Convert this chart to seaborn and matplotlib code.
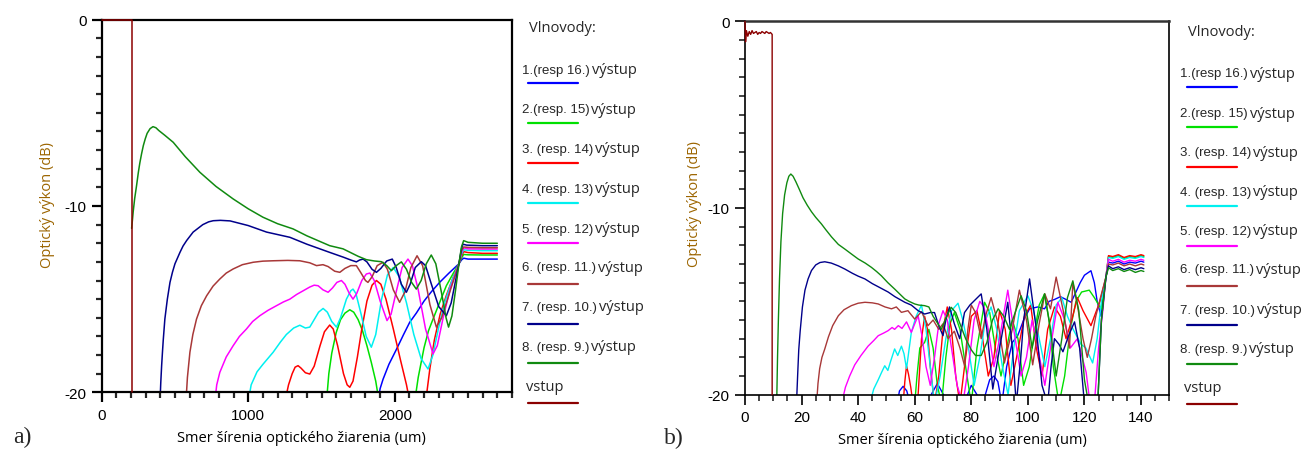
import matplotlib
matplotlib.use("Agg")
import matplotlib.pyplot as plt
import matplotlib.text as mtext
import pandas as pd
import seaborn as sns
from matplotlib.lines import Line2D
from matplotlib.ticker import MultipleLocator

# ---------------- data: panel a) ----------------
vstup_a_x = [0, 204, 204]
vstup_a_y = [0, 0, -20]

w8_a_x = [204, 208, 215, 225, 238, 250, 260, 272, 284, 297, 310, 330, 350, 370, 390, 430, 488, 570, 670, 780, 897, 1000, 1100, 1200,
          1306, 1400, 1556, 1647, 1750, 1806, 1860, 1909, 1945, 1977, 2010, 2045, 2080, 2115, 2147, 2180, 2215, 2249, 2280, 2320,
          2350, 2367, 2390, 2415, 2438, 2455, 2470, 2500, 2600, 2700]
w8_a_y = [-11.2, -10.9, -10.3, -9.6, -8.9, -8.2, -7.7, -7.2, -6.76, -6.4, -6.1, -5.85, -5.74, -5.8, -5.95, -6.2, -6.58, -7.35, -8.19, -8.95, -9.62, -10.15, -10.6, -10.95,
          -11.23, -11.6, -12.13, -12.3, -12.7, -12.88, -12.95, -12.99, -13.2, -13.47, -13.2, -13.0, -13.4, -14.1, -14.46, -14.0, -13.1, -12.63, -13.1, -14.7,
          -16.0, -16.5, -15.9, -14.5, -13.1, -12.2, -11.86, -11.95, -12.0, -12.0]

w7_a_x = [398, 403, 409, 415, 420, 431, 440, 448, 466, 483, 500, 534, 555, 580, 624, 690, 730, 761, 810, 876, 1000, 1125, 1284, 1400,
          1556, 1650, 1700, 1738, 1760, 1784, 1810, 1845, 1875, 1905, 1945, 1983, 2010, 2045, 2079, 2105, 2140, 2181, 2210, 2250,
          2300, 2352, 2385, 2415, 2438, 2455, 2465, 2490, 2600, 2700]
w7_a_y = [-20.5, -19.5, -18.57, -17.8, -17.2, -16.07, -15.5, -15.0, -14.1, -13.55, -13.1, -12.49, -12.15, -11.85, -11.4, -11.0, -10.85, -10.79, -10.77, -10.8, -11.05, -11.4, -11.68, -12.05,
          -12.49, -12.75, -12.9, -13.0, -12.9, -12.85, -13.0, -13.4, -13.56, -13.35, -12.95, -12.85, -13.3, -14.2, -14.63, -14.2, -13.3, -12.99, -13.2, -14.2,
          -15.4, -15.89, -15.2, -14.0, -13.1, -12.3, -12.05, -12.1, -12.13, -12.13]

w6_a_x = [575, 585, 602, 622, 647, 680, 716, 760, 806, 850, 897, 960, 1034, 1100, 1170, 1270, 1352, 1420, 1466, 1510, 1545, 1590, 1625,
          1660, 1700, 1738, 1770, 1800, 1817, 1845, 1880, 1920, 1950, 1990, 2033, 2070, 2110, 2152, 2190, 2240, 2284, 2320, 2380,
          2438, 2455, 2470, 2500, 2600, 2700]
w6_a_y = [-20.5, -19.2, -17.85, -16.9, -16.07, -15.35, -14.82, -14.3, -13.92, -13.6, -13.38, -13.15, -13.02, -12.96, -12.94, -12.92, -12.94, -13.05, -13.2, -13.15, -13.25, -13.5, -13.56,
          -13.35, -13.2, -13.2, -13.6, -14.0, -14.1, -13.8, -13.2, -13.02, -13.4, -14.5, -15.17, -14.6, -13.3, -12.67, -13.2, -15.3, -16.5, -16.0, -14.5,
          -13.1, -12.4, -12.2, -12.22, -12.24, -12.24]

w5_a_x = [772, 785, 806, 850, 897, 940, 988, 1030, 1079, 1135, 1193, 1240, 1284, 1330, 1375, 1420, 1450, 1477, 1510, 1545, 1575, 1605,
          1636, 1660, 1690, 1715, 1740, 1775, 1806, 1830, 1860, 1900, 1947, 1975, 2010, 2050, 2090, 2120, 2160, 2210, 2261, 2290,
          2330, 2380, 2438, 2455, 2470, 2500, 2600, 2700]
w5_a_y = [-20.5, -19.6, -18.93, -18.1, -17.5, -17.0, -16.6, -16.2, -15.89, -15.6, -15.35, -15.15, -15.0, -14.75, -14.55, -14.35, -14.25, -14.28, -14.5, -14.63, -14.4, -14.1,
          -14.0, -14.2, -14.7, -15.0, -14.7, -14.0, -13.65, -13.6, -14.0, -15.1, -16.15, -15.8, -14.6, -13.3, -12.85, -13.2, -14.5, -16.6, -17.94, -17.5,
          -16.0, -14.4, -13.1, -12.5, -12.25, -12.3, -12.31, -12.31]

w4_a_x = [1000, 1020, 1060, 1100, 1170, 1220, 1260, 1310, 1352, 1390, 1420, 1450, 1480, 1511, 1540, 1570, 1602, 1630, 1670, 1700, 1715,
          1735, 1770, 1805, 1840, 1870, 1910, 1950, 1990, 2030, 2080, 2130, 2180, 2227, 2260, 2300, 2340, 2390, 2438, 2455, 2470,
          2500, 2600, 2700]
w4_a_y = [-20.5, -19.6, -18.9, -18.5, -17.85, -17.3, -16.9, -16.55, -16.4, -16.55, -16.5, -16.1, -15.7, -15.5, -15.7, -16.2, -16.5, -16.0, -15.0, -14.55, -14.46,
          -14.7, -15.8, -17.0, -17.58, -16.9, -15.0, -13.7, -13.3, -13.8, -15.2, -16.9, -18.2, -18.75, -18.0, -16.5, -15.2, -14.0, -13.1, -12.6, -12.35,
          -12.38, -12.4, -12.4]

w3_a_x = [1250, 1275, 1300, 1320, 1340, 1360, 1390, 1420, 1450, 1490, 1520, 1556, 1580, 1610, 1650, 1675, 1693, 1715, 1745, 1775, 1810,
          1845, 1875, 1905, 1940, 1990, 2040, 2080, 2102, 2155, 2211, 2240, 2270, 2310, 2352, 2400, 2438, 2455, 2470, 2500, 2600, 2700]
w3_a_y = [-20.5, -19.6, -19.0, -18.65, -18.57, -18.7, -18.95, -19.02, -18.6, -17.5, -16.75, -16.39, -16.6, -17.5, -19.0, -19.6, -19.73, -19.4, -18.1, -16.6, -15.1,
          -14.25, -14.0, -14.2, -15.0, -16.6, -18.3, -19.6, -20.5, -22.0, -20.5, -18.7, -17.2, -15.8, -14.8, -13.8, -13.1, -12.7, -12.45, -12.5, -12.54, -12.54]

w2_a_x = [1534, 1550, 1570, 1600, 1630, 1660, 1693, 1720, 1750, 1780, 1810, 1840, 1870, 1893, 1990, 2136, 2160, 2200, 2230, 2261, 2300,
          2352, 2400, 2438, 2455, 2470, 2500, 2600, 2700]
w2_a_y = [-20.5, -19.0, -17.9, -16.8, -16.1, -15.75, -15.57, -15.7, -16.1, -16.7, -17.5, -18.4, -19.4, -20.5, -23.0, -20.5, -19.2, -17.6, -16.7, -16.07, -15.3,
          -14.28, -13.6, -13.1, -12.8, -12.6, -12.62, -12.63, -12.63]

w1_a_x = [1886, 1900, 1920, 1960, 2011, 2060, 2102, 2147, 2200, 2250, 2306, 2370, 2438, 2455, 2470, 2500, 2600, 2700]
w1_a_y = [-20.5, -19.8, -19.3, -18.5, -17.7, -16.9, -16.24, -15.75, -15.1, -14.6, -14.1, -13.6, -13.1, -12.9, -12.8, -12.85, -12.85, -12.85]

# ---------------- data: panel b) ----------------
vstup_b_x = [0, 0.2, 0.5, 1, 1.5, 2, 2.5, 3, 3.5, 4, 4.5, 5, 5.5, 6, 6.5, 7, 7.5, 8, 8.5, 9, 9.6, 9.6]
vstup_b_y = [0, -1.1, -0.5, -0.8, -0.55, -0.7, -0.5, -0.65, -0.6, -0.55, -0.7, -0.6, -0.65, -0.55, -0.6, -0.65, -0.55, -0.6, -0.65, -0.6, -0.7, -20]

w8_b_x = [11.2, 11.5, 11.8, 12.2, 12.7, 13.3, 14, 14.8, 15.5, 16.2, 17, 18, 19.2, 20.5, 22, 23.5, 25, 27, 28.5, 30.6, 33, 35.3, 37.5, 40,
          42.5, 44.7, 46.5, 48.2, 50.5, 52.9, 55, 56.5, 58, 60, 61.5, 63.5, 65, 66.5, 68.2, 69.4, 71, 72.9, 74.5, 76, 78, 80, 81.5, 83.5,
          85.5, 87.5, 89.5, 91.5, 93.5, 95.5, 97.6, 99.5, 101.5, 103.5, 105.9, 108, 110, 112, 114, 115.9, 118, 120, 121.5, 123, 124.7,
          126, 127.6, 128.5, 130, 132, 134, 136, 138, 140, 141]
w8_b_y = [-20.5, -18, -16, -13.8, -11.8, -10.3, -9.3, -8.65, -8.3, -8.18, -8.3, -8.6, -9.0, -9.45, -9.85, -10.2, -10.5, -10.85, -11.15, -11.55, -11.95, -12.2, -12.45, -12.73,
          -12.95, -13.18, -13.4, -13.63, -14.0, -14.34, -14.65, -14.87, -15.0, -15.14, -15.2, -15.23, -15.3, -15.8, -16.2, -16.5, -15.9, -15.32, -15.6, -16.2, -17.0, -17.6,
          -17.9, -17.9, -17.2, -16.0, -15.4, -15.8, -16.5, -15.6, -14.7, -15.5, -17.5, -16.0, -14.6, -16.5, -19.0, -17.0, -14.8, -13.9, -15.5, -19.2, -20.5, -21, -20.5,
          -16, -13.7, -13.2, -13.35, -13.25, -13.4, -13.3, -13.45, -13.35, -13.4]

w7_b_x = [18.2, 18.6, 19.0, 19.5, 20.3, 21.2, 22.3, 23.5, 25, 26.5, 28.2, 30.5, 33, 35.3, 38, 40, 42.4, 45, 47.5, 50.6, 53, 56.5, 58.8,
          61.2, 63.5, 65.5, 67, 68.5, 70, 71, 72.3, 74, 75.9, 77.6, 79.5, 81.5, 83.5, 85.5, 87.6, 90, 92.9, 94.5, 95.9, 97.5, 98.5, 100.6,
          103, 105, 107, 108.2, 109.4, 111, 112.4, 114.5, 116.5, 118.3, 120, 122, 124.7, 126, 127.6, 128.5, 130, 132, 134, 136, 138, 140, 141]
w7_b_y = [-20.5, -19, -17.6, -16.6, -15.3, -14.4, -13.8, -13.35, -13.05, -12.92, -12.88, -12.95, -13.1, -13.27, -13.5, -13.65, -13.8, -14.05, -14.25, -14.5, -14.75, -15.05, -15.2,
          -15.5, -15.68, -15.6, -15.6, -16.3, -16.84, -16.0, -15.3, -16.2, -17.0, -15.6, -15.2, -14.9, -14.6, -16.5, -19.7, -17.5, -15.05, -17.5, -20.5, -18, -16, -13.8,
          -16.5, -19.5, -20.5, -18.5, -17.0, -17.3, -17.7, -16.8, -16.1, -17.5, -20.5, -21, -20.5, -16, -13.7, -13.1, -13.25, -13.15, -13.3, -13.2, -13.3, -13.2, -13.25]

w6_b_x = [25.3, 25.8, 26.4, 27.2, 28.2, 29.5, 31, 33, 35, 37.6, 40, 42.4, 45, 47.1, 49.5, 51.8, 53.5, 55.3, 57.6, 60, 62.4, 64.7, 66.5,
          68.5, 70, 71.8, 74, 76, 77.6, 78.8, 80, 81.5, 83.5, 85, 87, 89.5, 91.7, 94.5, 97, 99.5, 101.7, 104, 106, 108, 110, 112.5, 114.7,
          115.9, 117.5, 119.5, 121, 122.5, 124, 125.5, 127.6, 128.5, 130, 132, 134, 136, 138, 140, 141]
w6_b_y = [-20.5, -19.4, -18.6, -18.0, -17.55, -16.9, -16.3, -15.77, -15.45, -15.23, -15.1, -15.05, -15.08, -15.14, -15.3, -15.4, -15.3, -15.59, -15.5, -15.95, -15.55, -16.3, -16.0,
          -16.5, -16.2, -17.0, -16.6, -17.5, -18.45, -16.5, -15.2, -15.6, -17.0, -15.8, -14.8, -16.2, -18.3, -16.5, -14.4, -16.0, -18.4, -16.2, -14.6, -15.4, -13.7, -15.5, -17.5,
          -14.0, -15.2, -17.0, -18.0, -17.0, -15.8, -14.9, -13.7, -13.0, -13.05, -12.95, -13.1, -13.0, -13.1, -13.0, -13.05]

w5_b_x = [34.1, 35.5, 37, 38.8, 41, 43.5, 45.5, 47.1, 49, 50.6, 52, 52.9, 54.2, 55.5, 57.1, 58.8, 60, 61.2, 62.5, 64, 65.5, 67, 68.5, 70,
          71.5, 73, 75, 77, 79, 81, 83, 84.5, 86, 88, 90, 92.9, 95, 97.6, 99.5, 101.5, 103.5, 106, 108.5, 110.6, 113, 115, 117.5, 120.6,
          122, 123.5, 125, 126.5, 127.6, 128.5, 130, 132, 134, 136, 138, 140, 141]
w5_b_y = [-20.5, -19.6, -19.0, -18.4, -17.9, -17.4, -17.1, -16.84, -16.7, -16.57, -16.4, -16.5, -16.3, -16.45, -16.1, -16.66, -16.2, -15.77,
          -16.8, -18.5, -19.5, -18.0, -16.2, -15.5, -16.0, -17.5, -19.5, -20.5, -18.5, -16.0, -15.0, -15.3, -16.5, -18.5, -17.0, -14.4, -16.5,
          -19.0, -18.0, -16.0, -17.5, -19.5, -17.0, -15.05, -16.0, -17.5, -17.0, -18.8, -20.5, -20.5, -17.5, -15.5, -13.7, -12.75, -12.85,
          -12.75, -12.9, -12.8, -12.85, -12.75, -12.8]

w4_b_x = [44.1, 45.5, 47.1, 48.3, 49.4, 50.5, 51.5, 52.9, 54, 55.3, 56.2, 57.1, 58.8, 60.5, 62.4, 64, 65.5, 67, 69, 71, 73, 75.3, 77, 79,
          81, 83, 85, 87, 89, 91, 93, 95, 97, 100, 102, 104, 106, 108, 110, 112, 114, 116, 118.8, 120.5, 122.9, 124.5, 126, 127.6, 128.5,
          130, 132, 134, 136, 138, 140, 141]
w4_b_y = [-20.5, -19.7, -19.2, -18.8, -18.45, -18.7, -18.2, -17.55, -17.9, -17.4, -17.8, -18.6, -16.66, -15.8, -15.2, -16.5, -18.5, -20.5,
          -19.0, -17.0, -15.5, -15.1, -16.0, -17.5, -19.5, -18.0, -16.0, -15.3, -16.5, -18.5, -20.0, -17.5, -15.5, -14.7, -15.5, -17.0, -18.5,
          -17.0, -15.2, -14.8, -15.8, -16.5, -17.3, -17.5, -18.3, -17.0, -15.0, -13.7, -12.65, -12.7, -12.6, -12.75, -12.65, -12.7, -12.6, -12.65]

w3_b_x = [55.9, 56.5, 57.1, 57.8, 58.6, 59.4, 60, 61, 62.4, 63.5, 64.5, 65.5, 67, 68.5, 70, 71.5, 73, 74.5, 76, 78, 80, 82, 84, 86, 88,
          90, 92, 94, 96, 98.8, 101, 103, 105, 107, 109.4, 111.5, 113.5, 115.5, 117.5, 119.5, 122.3, 124, 125.5, 127.6, 128.5, 130, 132,
          134, 136, 138, 140, 141]
w3_b_y = [-20.5, -19.3, -18.45, -18.9, -19.6, -20.5, -21, -20.5, -17.0, -15.8, -16.5, -18.5, -20.5, -19.0, -16.5, -15.3, -16.5, -19.0, -20.5,
          -18.0, -15.8, -15.5, -17.0, -19.0, -18.0, -15.5, -16.5, -19.5, -18.0, -15.8, -15.2, -17.5, -19.0, -16.5, -15.3, -15.8, -17.0, -16.0,
          -14.8, -15.5, -16.3, -15.6, -15.0, -13.7, -12.55, -12.6, -12.5, -12.65, -12.55, -12.6, -12.5, -12.55]

w2_b_x = [60, 60.8, 61.8, 63.5, 65, 66.5, 68, 69.5, 71, 72.5, 74, 76, 78, 80, 82, 84.7, 86.5, 88.5, 90.5, 92.5, 94.5, 96.5, 98.5, 100.5,
          102.5, 104, 105.9, 107.5, 109, 111, 113, 115, 117, 119, 121.7, 123.5, 125.9, 127.6, 128.5, 130, 132, 134, 136, 138, 140, 141]
w2_b_y = [-20.5, -19, -17.5, -17.2, -16.5, -17.5, -19.5, -20.5, -18.0, -16.2, -15.6, -16.5, -18.5, -20.5, -17.5, -15.05, -15.6, -17.5, -19.0,
          -17.5, -16.0, -17.0, -19.5, -18.5, -16.5, -15.2, -14.6, -16.0, -18.5, -20.5, -19.0, -16.5, -15.0, -14.5, -14.4, -14.8, -15.4, -13.7,
          -12.6, -12.65, -12.55, -12.7, -12.6, -12.65, -12.55, -12.6]

w1_b_x = [53.8, 54.6, 55.9, 57.2, 58.4, 60, 64, 68, 72, 76, 80, 84, 86.5, 88, 89.4, 90.8, 92.5, 94.5, 96.4, 98.5, 100.6, 103.5, 105.9,
          107.5, 109.4, 111.5, 113.5, 115.3, 117, 118.5, 120, 122.3, 123.5, 124.5, 125.9, 127.6, 128.5, 130, 132, 134, 136, 138, 140, 141]
w1_b_y = [-20.5, -19.8, -19.55, -19.8, -20.5, -22, -20.5, -19.4, -20.5, -21, -19.5, -20.5, -19.2, -19.0, -19.3, -20.5, -18.5, -17.2, -16.84,
          -16.0, -15.4, -15.3, -15.4, -15.0, -14.9, -14.75, -14.9, -15.05, -14.5, -14.0, -13.6, -13.36, -14.0, -15.0, -15.8, -13.7, -12.9,
          -12.95, -12.85, -13.0, -12.9, -12.95, -12.85, -12.9]

legend_title = "Vlnovody:"
legend_parts = ["1.(resp 16.)", "2.(resp. 15)", "3. (resp. 14)", "4. (resp. 13)", "5. (resp. 12)",
                "6. (resp. 11.)", "7. (resp. 10.)", "8. (resp. 9.)"]
legend_suffix = "výstup"
legend_last = "vstup"
colors = ["#0000ff", "#00e000", "#ff0000", "#00f0f0", "#ff00ff", "#a83838", "#00008b", "#108a10", "#8b0000"]

xlabel = "Smer šírenia optického žiarenia (um)"
ylabel = "Optický výkon (dB)"

series_a = [(w1_a_x, w1_a_y), (w2_a_x, w2_a_y), (w3_a_x, w3_a_y), (w4_a_x, w4_a_y), (w5_a_x, w5_a_y),
            (w6_a_x, w6_a_y), (w7_a_x, w7_a_y), (w8_a_x, w8_a_y), (vstup_a_x, vstup_a_y)]
series_b = [(w1_b_x, w1_b_y), (w2_b_x, w2_b_y), (w3_b_x, w3_b_y), (w4_b_x, w4_b_y), (w5_b_x, w5_b_y),
            (w6_b_x, w6_b_y), (w7_b_x, w7_b_y), (w8_b_x, w8_b_y), (vstup_b_x, vstup_b_y)]

# ---------------- figure ----------------
sns.set_style("ticks")
plt.rcParams['font.family'] = ['Liberation Sans', 'DejaVu Sans']
plt.rcParams['axes.unicode_minus'] = False

W, H = 1302, 452
fig = plt.figure(figsize=(W / 100, H / 100), dpi=100)


def fx(px):
    return px / W


def fy(py):
    return 1 - py / H


axA = fig.add_axes([fx(101.7), fy(393.3), 410.3 / W, 372.6 / H])
axB = fig.add_axes([fx(745), fy(395.7), 424.3 / W, 373.4 / H])


def draw(ax, series, lw):
    order = [0, 1, 2, 3, 4, 5, 6, 7, 8]
    for i in order:
        xs, ys = series[i]
        df = pd.DataFrame({"x": xs, "y": ys})
        sns.lineplot(data=df, x="x", y="y", ax=ax, color=colors[i], lw=lw,
                     estimator=None, sort=False, legend=False)
    # the input trace sits on the 0 dB edge: keep it fully visible
    ax.lines[-1].set_clip_on(False)
    ax.lines[-1].set_zorder(5)


draw(axA, series_a, 1.1)
draw(axB, series_b, 1.0)

ylab_color = "#9c6500"
for ax, xmax, xmaj, xmin, spw, ylx, yly, xlx in [
        (axA, 2800, 1000, 100, 1.6, -0.133, 0.505, 0.488),
        (axB, 150, 20, 5, 1.2, -0.118, 0.513, 0.512)]:
    ax.set_xlim(0, xmax)
    ax.set_ylim(-20, 0)
    ax.xaxis.set_major_locator(MultipleLocator(xmaj))
    ax.xaxis.set_minor_locator(MultipleLocator(xmin))
    ax.yaxis.set_major_locator(MultipleLocator(10))
    ax.yaxis.set_minor_locator(MultipleLocator(1))
    ax.tick_params(which="major", direction="out", length=7, width=spw, labelsize=11, pad=4, colors="black")
    ax.tick_params(which="minor", direction="out", length=4.5, width=spw)
    for s in ax.spines.values():
        s.set_visible(True)
        s.set_color("black")
        s.set_linewidth(spw)
    ax.set_xlabel(xlabel, family=["Open Sans", "DejaVu Sans"], fontsize=10.5, color="black")
    ax.set_ylabel(ylabel, family=["Open Sans", "DejaVu Sans"], fontsize=10.5, color=ylab_color)
    ax.xaxis.set_label_coords(xlx, -0.12)
    ax.xaxis.label.set_va("center")
    ax.yaxis.set_label_coords(ylx, yly)
    ax.yaxis.label.set_va("center")
    ax.set_facecolor("white")

axB.spines["top"].set_color("#333333")
axB.spines["top"].set_linewidth(1.8)

# panel letters
fig.text(fx(22), fy(437), "a)", family=["Liberation Serif", "DejaVu Serif"], fontsize=17, ha="center", va="center")
fig.text(fx(674), fy(438), "b)", family=["Liberation Serif", "DejaVu Serif"], fontsize=17, ha="center", va="center")


def draw_legend(title_xy, text_x, text_ys, line_x0, line_x1, line_ys):
    fig.text(fx(title_xy[0]), fy(title_xy[1]), legend_title, family=["Open Sans", "DejaVu Sans"],
             fontsize=10.5, ha="left", va="center")
    for i in range(9):
        if i < 8:
            t = fig.text(fx(text_x), fy(text_ys[i]), legend_parts[i], fontsize=9.5, ha="left", va="center",
                         family=["Liberation Sans", "DejaVu Sans"])
            fig.add_artist(
                mtext.Annotation(legend_suffix, xy=(1, 0.5), xycoords=t, xytext=(1.5, 0),
                                 textcoords="offset points", ha="left", va="center",
                                 family=["Open Sans", "DejaVu Sans"], fontsize=10.5))
        else:
            fig.text(fx(text_x + 4), fy(text_ys[i]), legend_last, family=["Open Sans", "DejaVu Sans"],
                     fontsize=10.5, ha="left", va="center")
        fig.add_artist(Line2D([fx(line_x0), fx(line_x1)], [fy(line_ys[i]), fy(line_ys[i])],
                              color=colors[i], lw=1.6, transform=fig.transFigure))


draw_legend((529, 28), 521.7, [70.7, 110, 150, 190, 230, 268, 308, 348, 388], 528.3, 578.3,
            [84.3, 124.3, 164.3, 204.3, 244.3, 285, 325, 364.3, 404.3])
draw_legend((1188, 33), 1180, [74.3, 114.3, 153.3, 192.7, 231.7, 270, 310.7, 350, 388.3], 1187.3, 1236.7,
            [88.3, 127.7, 167.7, 207.3, 246.7, 286.7, 326, 365, 405])

fig.savefig("out.png", dpi=100, facecolor="white")
